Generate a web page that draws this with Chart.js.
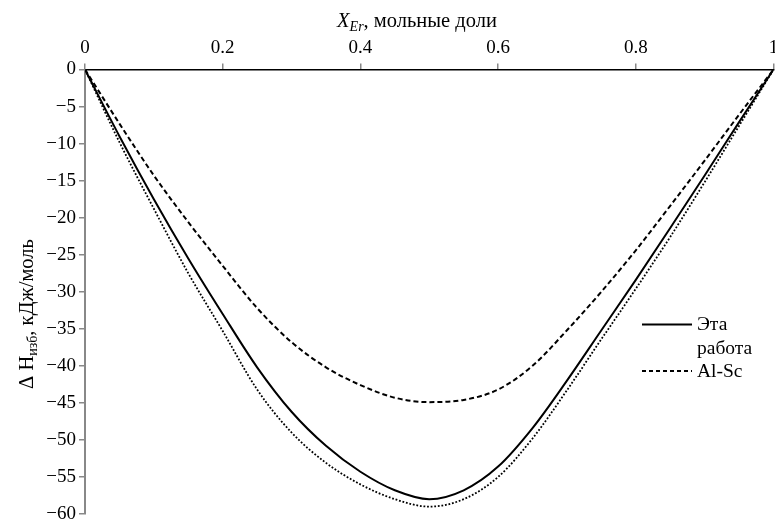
<!DOCTYPE html>
<html><head><meta charset="utf-8">
<script src="https://cdn.jsdelivr.net/npm/chart.js@4/dist/chart.umd.min.js"></script>
<style>
html,body{margin:0;padding:0;background:#fff;overflow:hidden;width:775px;height:521px}
#wrap{width:775px;height:521px;overflow:hidden;position:relative;background:#fff}
canvas{display:block}
</style></head>
<body><div id="wrap"><canvas id="c" width="795" height="540"></canvas></div>
<script>
// Data
const xValues   = [0,0.05,0.1,0.15,0.2,0.25,0.3,0.35,0.4,0.45,0.5,0.55,0.6,0.65,0.7,0.75,0.8,0.85,0.9,0.95,1];
const thisWork  = [0,-9,-17.5,-25.5,-33,-40.2,-46.2,-50.8,-54.3,-56.8,-58.0,-56.8,-53.6,-48.4,-42.0,-35.2,-28.4,-21.4,-14.3,-7.1,0];
const alSc      = [0,-7.3,-14.3,-20.6,-26.5,-32.2,-36.8,-40.2,-42.6,-44.3,-44.9,-44.6,-43.2,-40.0,-35.2,-30.0,-24.4,-18.4,-12.3,-6.1,0];
const dottedSer = [0,-9.8,-18.8,-27.5,-35.3,-43.2,-49.0,-53.1,-56.0,-58.0,-59.0,-58.0,-55.0,-49.8,-43.3,-36.4,-29.6,-22.6,-15.2,-7.6,0];
const xTicks = [0,0.2,0.4,0.6,0.8,1];
const yTicks = [0,-5,-10,-15,-20,-25,-30,-35,-40,-45,-50,-55,-60];
const legendLabels = [['Эта','работа'],['Al-Sc']];

const FONT = '"Liberation Serif", "Times New Roman", serif';
const pts = arr => xValues.map((x,i)=>({x:x, y:arr[i]}));

const annot = {
  id:'annot',
  afterDraw(chart){
    const ctx = chart.ctx;
    ctx.save();
    ctx.fillStyle = '#000';
    ctx.textBaseline = 'alphabetic';
    ctx.textAlign = 'left';
    // top axis title: X_Er, мольные доли
    const parts = [
      {t:'X', f:'italic 20.5px '+FONT, dy:0},
      {t:'Er', f:'italic 14px '+FONT, dy:4},
      {t:', мольные доли', f:'20.5px '+FONT, dy:0}
    ];
    let w = 0;
    parts.forEach(p=>{ctx.font=p.f; p.w=ctx.measureText(p.t).width; w+=p.w;});
    let x = 417 - w/2;
    parts.forEach(p=>{ctx.font=p.f; ctx.fillText(p.t, x, 27+p.dy); x+=p.w;});
    // left axis title: ΔH_изб, кДж/моль (rotated)
    ctx.save();
    ctx.translate(33, 314);
    ctx.rotate(-Math.PI/2);
    const yp = [
      {t:'Δ H', f:'20.5px '+FONT, dy:0},
      {t:'изб', f:'14px '+FONT, dy:4},
      {t:', кДж/моль', f:'20.5px '+FONT, dy:0}
    ];
    w = 0;
    yp.forEach(p=>{ctx.font=p.f; p.w=ctx.measureText(p.t).width; w+=p.w;});
    x = -w/2;
    yp.forEach(p=>{ctx.font=p.f; ctx.fillText(p.t, x, p.dy); x+=p.w;});
    ctx.restore();
    // legend
    ctx.strokeStyle = '#000';
    ctx.lineWidth = 2;
    ctx.setLineDash([]);
    ctx.beginPath(); ctx.moveTo(642, 324.5); ctx.lineTo(692, 324.5); ctx.stroke();
    ctx.setLineDash([4,3]);
    ctx.beginPath(); ctx.moveTo(642, 371); ctx.lineTo(692, 371); ctx.stroke();
    ctx.setLineDash([]);
    ctx.font = '19.5px '+FONT;
    ctx.textBaseline = 'middle';
    ctx.fillText(legendLabels[0][0], 697, 325);
    ctx.fillText(legendLabels[0][1], 697, 349);
    ctx.fillText(legendLabels[1][0], 697, 372);
    ctx.restore();
  }
};

new Chart(document.getElementById('c'), {
  type:'line',
  data:{
    datasets:[
      {label:'Эта работа', data:pts(thisWork), borderColor:'#000', borderWidth:2, pointRadius:0, cubicInterpolationMode:'monotone', fill:false},
      {label:'Al-Sc', data:pts(alSc), borderColor:'#000', borderWidth:2, borderDash:[5,3], pointRadius:0, cubicInterpolationMode:'monotone', fill:false},
      {label:'', data:pts(dottedSer), borderColor:'#000', borderWidth:1.8, borderDash:[1.8,1.8], pointRadius:0, cubicInterpolationMode:'monotone', fill:false}
    ]
  },
  options:{
    responsive:false,
    animation:false,
    layout:{padding:{left:0, top:0, right:21.5, bottom:26}},
    plugins:{legend:{display:false}, tooltip:{enabled:false}},
    scales:{
      x:{
        type:'linear', position:'top', min:0, max:1,
        afterBuildTicks:s=>{s.ticks = xTicks.map(v=>({value:v}));},
        afterFit:s=>{s.height = 69.5;},
        ticks:{color:'#000', font:{family:FONT, size:19}, padding:4, maxRotation:0, autoSkip:false,
          callback:v=> (v===0||v===1) ? String(v) : v.toFixed(1)},
        grid:{display:true, drawOnChartArea:false, drawTicks:true, tickLength:6, color:'#888', lineWidth:1.5},
        border:{display:true, color:'#000', width:1.5}
      },
      y:{
        type:'linear', min:-60, max:0,
        afterBuildTicks:s=>{s.ticks = yTicks.map(v=>({value:v}));},
        afterFit:s=>{s.width = 85;},
        ticks:{color:'#000', font:{family:FONT, size:19}, padding:3, autoSkip:false,
          callback:v=> v<0 ? '\u2212'+Math.abs(v) : String(v)},
        grid:{display:true, drawOnChartArea:false, drawTicks:true, tickLength:6, color:'#888', lineWidth:1.5},
        border:{display:true, color:'#888', width:2}
      }
    }
  },
  plugins:[annot]
});
</script>
</body></html>
